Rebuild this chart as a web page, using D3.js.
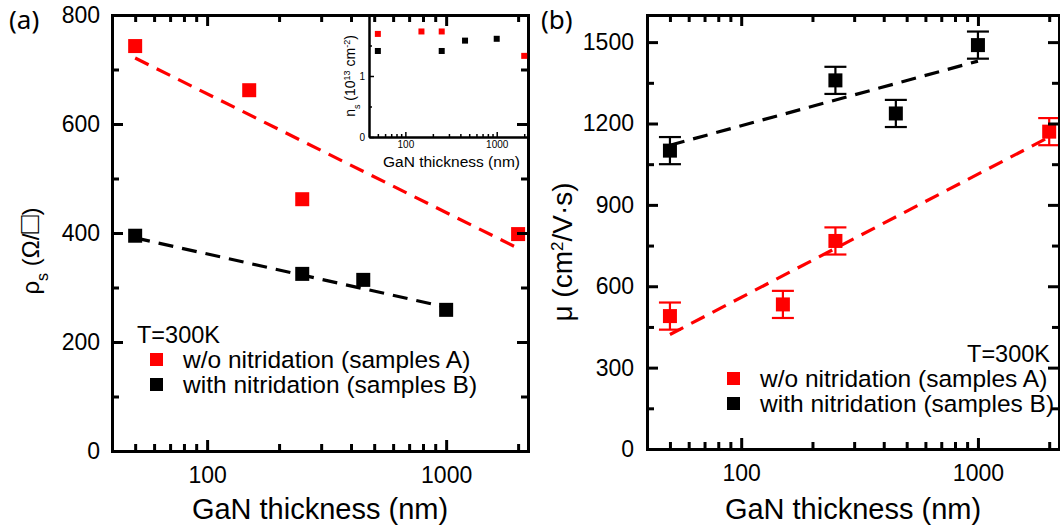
<!DOCTYPE html>
<html>
<head>
<meta charset="utf-8">
<script src="https://cdn.jsdelivr.net/npm/d3@7"></script>
<style>
  html, body { margin: 0; padding: 0; background: #fff; }
  svg { display: block; }
  text { font-family: "Liberation Sans", Arial, sans-serif; fill: #000; }
</style>
</head>
<body>
<svg id="chart" width="1060" height="527"></svg>
<script>
// GaN thickness of each sample series (nm)
const thicknessA = [50, 150, 250, 2000];
const thicknessB = [50, 250, 450, 1000];

// Sheet resistance (Ohm/sq)
const sheetResA = [743, 662, 462, 398];
const sheetResB = [395, 325, 314, 259];
const sheetResFitA = [[50, 721], [2000, 372]];
const sheetResFitB = [[50, 391], [1000, 264]];

// Sheet carrier density (1e13 cm^-2), inset
const densityA = [1.69, 1.73, 1.73, 1.33];
const densityB = [1.41, 1.41, 1.58, 1.61];

// Hall mobility (cm^2/V.s) with error
const mobilityA = [490, 533, 767, 1170];
const mobilityB = [1100, 1359, 1237, 1489];
const mobilityErrA = [50, 50, 50, 50];
const mobilityErrB = [50, 50, 50, 50];
const mobilityFitA = [[50, 422], [2000, 1150]];
const mobilityFitB = [[50, 1120], [1000, 1430]];

// Axis ticks
const xMajor = [100, 1000];
const xMinor = [50, 60, 70, 80, 90, 200, 300, 400, 500, 600, 700, 800, 900, 2000];
const resMajor = [0, 200, 400, 600, 800];
const resMinor = [100, 300, 500, 700];
const mobMajor = [0, 300, 600, 900, 1200, 1500];
const mobMinor = [150, 450, 750, 1050, 1350];
const insetYMajor = [0, 1];
const insetYMinor = [0.5, 1.5];

const legendLabels = ["w/o nitridation (samples A)", "with nitridation (samples B)"];
const RED = "#ff0000", BLACK = "#000000";

const svg = d3.select("#chart");

function frame(g, x, y, xr, yr, opts) {
  const major = opts.major, minor = opts.minor;
  // bottom axis
  const bottom = g.append("g").attr("transform", `translate(0,${yr[0]})`);
  bottom.call(d3.axisBottom(x).tickValues(xMajor).tickSize(-major).tickSizeOuter(0)
      .tickPadding(opts.xPad).tickFormat(d3.format("d")));
  bottom.append("g").call(d3.axisBottom(x).tickValues(xMinor).tickSize(-minor).tickSizeOuter(0).tickFormat(""));
  // left axis
  const left = g.append("g").attr("transform", `translate(${xr[0]},0)`);
  left.call(d3.axisLeft(y).tickValues(opts.yMajor).tickSize(-major).tickSizeOuter(0)
      .tickPadding(opts.yPad).tickFormat(d3.format("d")));
  left.append("g").call(d3.axisLeft(y).tickValues(opts.yMinor).tickSize(-minor).tickSizeOuter(0).tickFormat(""));
  // mirrored top and right axes, ticks only
  const top = g.append("g").attr("transform", `translate(0,${yr[1]})`);
  top.call(d3.axisTop(x).tickValues(xMajor).tickSize(-major).tickSizeOuter(0).tickFormat(""));
  top.append("g").call(d3.axisTop(x).tickValues(xMinor).tickSize(-minor).tickSizeOuter(0).tickFormat(""));
  const right = g.append("g").attr("transform", `translate(${xr[1]},0)`);
  right.call(d3.axisRight(y).tickValues(opts.yMajor).tickSize(-major).tickSizeOuter(0).tickFormat(""));
  right.append("g").call(d3.axisRight(y).tickValues(opts.yMinor).tickSize(-minor).tickSizeOuter(0).tickFormat(""));
  [bottom, left, top, right].forEach(a => {
    a.selectAll("path.domain").attr("stroke", "#000").attr("stroke-width", opts.lw).attr("stroke-linecap", "square");
    a.selectAll(".tick line").attr("stroke", "#000").attr("stroke-width", opts.lw);
    a.selectAll(".tick text").style("font-size", opts.fs + "px").style("font-family", '"Liberation Sans", Arial, sans-serif');
  });
}

function squares(g, x, y, xs, ys, color, size) {
  g.selectAll(null).data(xs.map((d, i) => [d, ys[i]])).enter().append("rect")
    .attr("x", d => x(d[0]) - size / 2).attr("y", d => y(d[1]) - size / 2)
    .attr("width", size).attr("height", size).attr("fill", color);
}

function fitLine(g, x, y, pts, color) {
  g.append("path").datum(pts)
    .attr("d", d3.line().x(d => x(d[0])).y(d => y(d[1])))
    .attr("fill", "none").attr("stroke", color).attr("stroke-width", 3.2)
    .attr("stroke-dasharray", "15,9");
}

function legend(g, x0, y0, align, tx) {
  const t = g.append("text").attr("x", tx).attr("y", y0).style("font-size", "23.5px").text("T=300K");
  if (align === "end") t.attr("text-anchor", "end");
  [RED, BLACK].forEach((c, i) => {
    const yy = y0 + 25 * (i + 1);
    g.append("rect").attr("x", x0).attr("y", yy - 15).attr("width", 13).attr("height", 13).attr("fill", c);
    g.append("text").attr("x", x0 + 33).attr("y", yy).style("font-size", "24.5px").text(legendLabels[i]);
  });
}

// ---------- Panel (a): sheet resistance ----------
const axR = [112, 528], ayR = [451, 15];
const xa = d3.scaleLog().domain([40, 2200]).range(axR);
const ya = d3.scaleLinear().domain([0, 800]).range(ayR);
const ga = svg.append("g");

fitLine(ga, xa, ya, sheetResFitA, RED);
fitLine(ga, xa, ya, sheetResFitB, BLACK);
squares(ga, xa, ya, thicknessA, sheetResA, RED, 14);
squares(ga, xa, ya, thicknessB, sheetResB, BLACK, 14);

// inset: sheet carrier density
const ixR = [369, 528], iyR = [137, 15];
const xi = d3.scaleLog().domain([40, 2200]).range(ixR);
const yi = d3.scaleLinear().domain([0, 2]).range(iyR);
const gi = svg.append("g");
(function insetAxes() {
  const b = gi.append("g").attr("transform", `translate(0,${iyR[0]})`);
  b.call(d3.axisBottom(xi).tickValues(xMajor).tickSize(-5).tickSizeOuter(0).tickPadding(4).tickFormat(d3.format("d")));
  b.append("g").call(d3.axisBottom(xi).tickValues(xMinor).tickSize(-3).tickSizeOuter(0).tickFormat(""));
  const l = gi.append("g").attr("transform", `translate(${ixR[0]},0)`);
  l.call(d3.axisLeft(yi).tickValues(insetYMajor).tickSize(-5).tickSizeOuter(0).tickPadding(4).tickFormat(d3.format("d")));
  l.append("g").call(d3.axisLeft(yi).tickValues(insetYMinor).tickSize(-3).tickSizeOuter(0).tickFormat(""));
  [b, l].forEach(a => {
    a.selectAll("path.domain").attr("stroke", "#000").attr("stroke-width", 2);
    a.selectAll(".tick line").attr("stroke", "#000").attr("stroke-width", 1.5);
    a.selectAll(".tick text").style("font-size", "10px").style("font-family", '"Liberation Sans", Arial, sans-serif');
  });
})();
squares(gi, xi, yi, thicknessA, densityA, RED, 6);
squares(gi, xi, yi, thicknessB, densityB, BLACK, 6);
gi.append("text").attr("x", (ixR[0] + ixR[1]) / 2 + 3).attr("y", 167).attr("text-anchor", "middle")
  .style("font-size", "15.5px").text("GaN thickness (nm)");
(function insetYLabel() {
  const t = gi.append("text").attr("transform", "translate(355,76) rotate(-90)").attr("text-anchor", "middle").style("font-size", "14px");
  t.append("tspan").text("n");
  t.append("tspan").attr("baseline-shift", "sub").style("font-size", "9px").text("s");
  t.append("tspan").text(" (10");
  t.append("tspan").attr("baseline-shift", "super").style("font-size", "9px").text("13");
  t.append("tspan").text(" cm");
  t.append("tspan").attr("baseline-shift", "super").style("font-size", "9px").text("-2");
  t.append("tspan").text(")");
})();

frame(ga, xa, ya, axR, ayR, { major: 11, minor: 7, xPad: 16, yPad: 12, yMajor: resMajor, yMinor: resMinor, lw: 3, fs: 23 });

ga.append("text").attr("x", (axR[0] + axR[1]) / 2).attr("y", 519).attr("text-anchor", "middle")
  .style("font-size", "29px").text("GaN thickness (nm)");
(function resLabel() {
  const t = ga.append("text").attr("transform", "translate(39,251) rotate(-90)").attr("text-anchor", "middle").style("font-size", "24px");
  t.append("tspan").text("ρ");
  t.append("tspan").attr("baseline-shift", "sub").style("font-size", "16px").text("s");
  t.append("tspan").text(" (Ω/");
  t.append("tspan").style("font-size", "30px").text("□");
  t.append("tspan").text(")");
})();
ga.append("text").attr("x", 9).attr("y", 29).style("font-family", '"Noto Sans", "Open Sans", sans-serif').style("font-size", "26px").text("(a)");
legend(ga, 150, 343, "start", 137);

// ---------- Panel (b): mobility ----------
const bxR = [647, 1059], byR = [449, 15];
const xb = d3.scaleLog().domain([40, 2200]).range(bxR);
const yb = d3.scaleLinear().domain([0, 1600]).range(byR);
const gb = svg.append("g");

fitLine(gb, xb, yb, mobilityFitA, RED);
fitLine(gb, xb, yb, mobilityFitB, BLACK);

function errorBars(g, xs, ys, es, color) {
  const data = xs.map((d, i) => [d, ys[i], es[i]]);
  const eg = g.append("g").attr("stroke", color).attr("stroke-width", 2.2);
  eg.selectAll(null).data(data).enter().append("line")
    .attr("x1", d => xb(d[0])).attr("x2", d => xb(d[0]))
    .attr("y1", d => yb(d[1] + d[2])).attr("y2", d => yb(d[1] - d[2]));
  [1, -1].forEach(s => {
    eg.selectAll(null).data(data).enter().append("line")
      .attr("x1", d => xb(d[0]) - 11).attr("x2", d => xb(d[0]) + 11)
      .attr("y1", d => yb(d[1] + s * d[2])).attr("y2", d => yb(d[1] + s * d[2]));
  });
}
errorBars(gb, thicknessA, mobilityA, mobilityErrA, RED);
errorBars(gb, thicknessB, mobilityB, mobilityErrB, BLACK);
squares(gb, xb, yb, thicknessA, mobilityA, RED, 14);
squares(gb, xb, yb, thicknessB, mobilityB, BLACK, 14);

frame(gb, xb, yb, bxR, byR, { major: 11, minor: 7, xPad: 16, yPad: 13, yMajor: mobMajor, yMinor: mobMinor, lw: 3, fs: 23 });

gb.append("text").attr("x", (bxR[0] + bxR[1]) / 2).attr("y", 519).attr("text-anchor", "middle")
  .style("font-size", "29px").text("GaN thickness (nm)");
(function mobLabel() {
  const t = gb.append("text").attr("transform", "translate(572,252) rotate(-90)").attr("text-anchor", "middle").style("font-size", "28px");
  t.append("tspan").text("μ (cm");
  t.append("tspan").attr("baseline-shift", "super").style("font-size", "17px").text("2");
  t.append("tspan").text("/V·s)");
})();
gb.append("text").attr("x", 541).attr("y", 29).style("font-family", '"Noto Sans", "Open Sans", sans-serif').style("font-size", "26px").text("(b)");
legend(gb, 727, 362, "end", 1050);
</script>
</body>
</html>
